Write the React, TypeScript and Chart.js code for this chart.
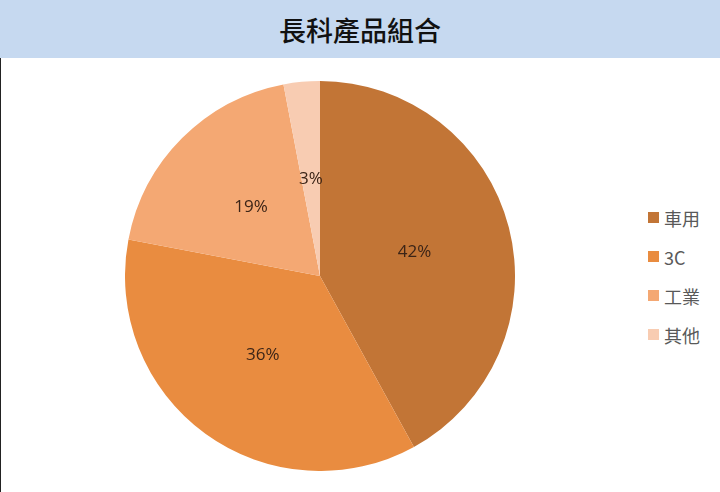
import { useEffect, useRef } from "react";
import { Chart, ChartConfiguration, Plugin, registerables } from "chart.js";

Chart.register(...registerables);

const TITLE = "長科產品組合";
const LABELS = ["車用", "3C", "工業", "其他"];
const VALUES = [42, 36, 19, 3];
const COLORS = ["#C27536", "#E98C40", "#F4A873", "#F8CCB2"];

// draws the percent text in the middle of each slice
const sliceLabels: Plugin<"pie"> = {
  id: "sliceLabels",
  afterDatasetsDraw(chart) {
    const ctx = chart.ctx;
    const meta = chart.getDatasetMeta(0);
    ctx.save();
    ctx.font = "17px 'Open Sans', sans-serif";
    ctx.fillStyle = "#3B2417";
    ctx.textAlign = "center";
    ctx.textBaseline = "middle";
    meta.data.forEach((arc: any, i) => {
      const { x, y, startAngle, endAngle, outerRadius } = arc.getProps(
        ["x", "y", "startAngle", "endAngle", "outerRadius"],
        true
      );
      const mid = (startAngle + endAngle) / 2;
      const r = outerRadius * 0.5;
      ctx.fillText(`${VALUES[i]}%`, x + Math.cos(mid) * r, y + Math.sin(mid) * r);
    });
    ctx.restore();
  },
};

export default function App() {
  const canvasRef = useRef<HTMLCanvasElement>(null);

  useEffect(() => {
    document.body.style.margin = "0";
    if (!canvasRef.current) return;
    const config: ChartConfiguration<"pie"> = {
      type: "pie",
      data: {
        labels: LABELS,
        datasets: [
          {
            data: VALUES,
            backgroundColor: COLORS,
            borderWidth: 0,
          },
        ],
      },
      options: {
        responsive: false,
        animation: false,
        layout: { padding: 0 },
        plugins: {
          legend: { display: false },
          tooltip: { enabled: false },
        },
      },
      plugins: [sliceLabels],
    };
    const chart = new Chart(canvasRef.current, config);
    return () => chart.destroy();
  }, []);

  return (
    <div
      style={{
        position: "relative",
        width: 720,
        height: 492,
        background: "#fff",
        overflow: "hidden",
        fontFamily: "'Noto Sans CJK TC', 'Noto Sans', sans-serif",
      }}
    >
      {/* Title bar */}
      <div
        style={{
          height: 58,
          background: "#C6D9F0",
          display: "flex",
          alignItems: "center",
          justifyContent: "center",
          fontSize: 27,
          fontWeight: 500,
          color: "#111",
        }}
      >
        {TITLE}
      </div>

      {/* Chart area */}
      <div
        style={{
          position: "absolute",
          top: 58,
          left: 0,
          width: 720,
          height: 434,
          borderLeft: "1.5px solid #222",
          boxSizing: "border-box",
        }}
      >
        <canvas
          ref={canvasRef}
          width={390}
          height={390}
          style={{ position: "absolute", left: 124, top: 23, width: 390, height: 390 }}
        />

        {/* Legend */}
        <div style={{ position: "absolute", left: 647, top: 140 }}>
          {LABELS.map((label, i) => (
            <div
              key={label}
              style={{ display: "flex", alignItems: "center", height: 39 }}
            >
              <div style={{ width: 11, height: 11, background: COLORS[i], marginRight: 5 }} />
              <span style={{ fontSize: 18, color: "#595959", lineHeight: "20px" }}>{label}</span>
            </div>
          ))}
        </div>
      </div>
    </div>
  );
}
